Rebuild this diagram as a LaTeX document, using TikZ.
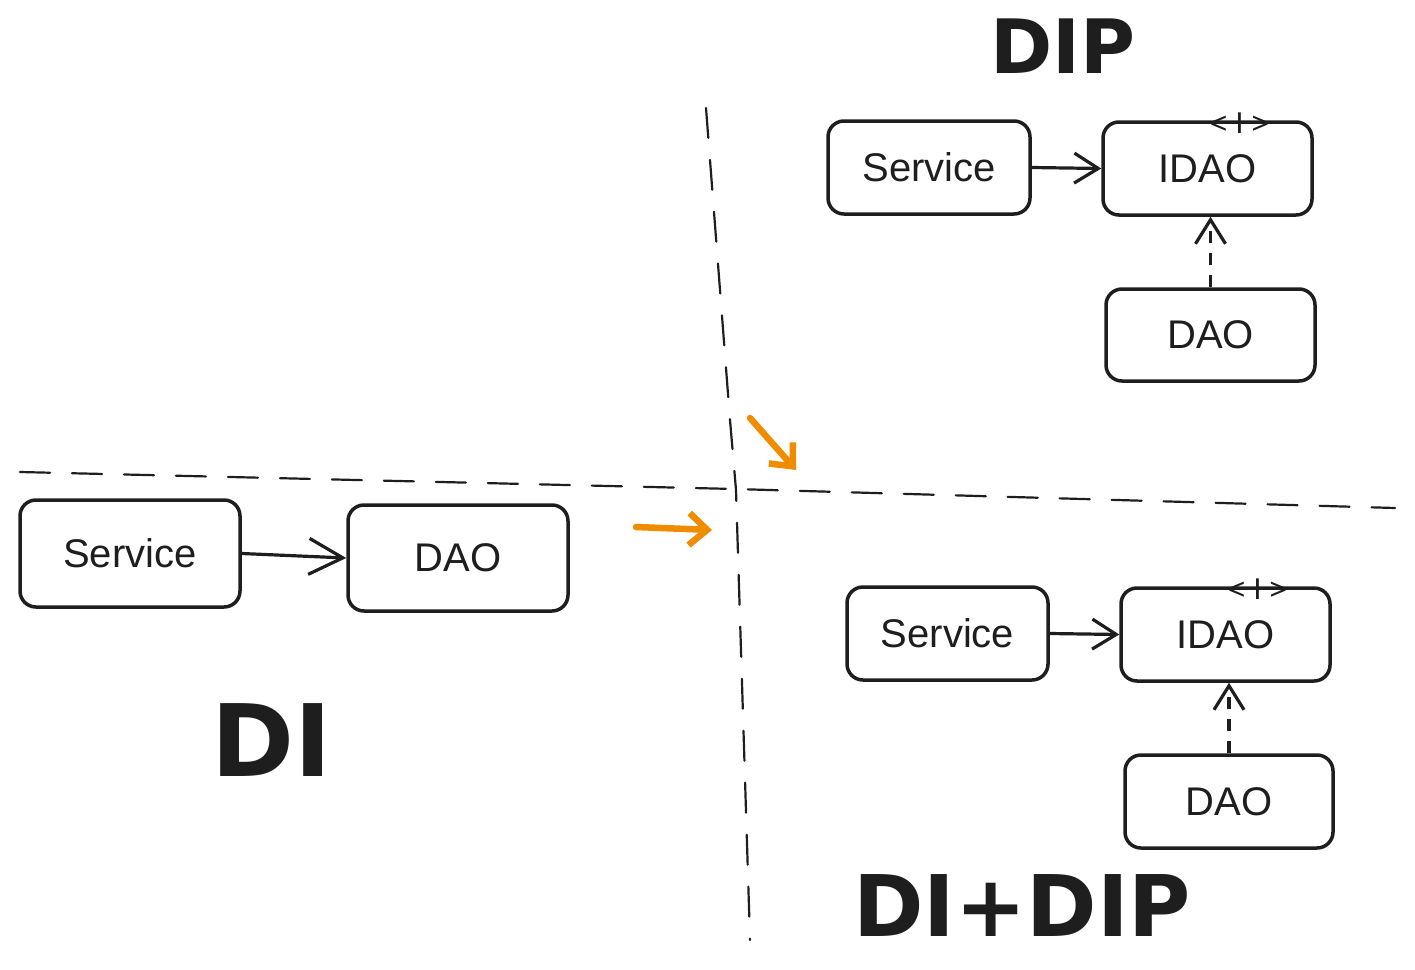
\documentclass[tikz,border=0pt]{standalone}
\usepackage{fontspec}
\setmainfont{Liberation Sans}
\newfontfamily\titlefont{DejaVu Sans}
\usetikzlibrary{arrows.meta}
\definecolor{inkc}{HTML}{1E1E1E}
\definecolor{orangec}{HTML}{F08C00}
\tikzset{
  box/.style={draw=inkc, line width=3.5pt, rounded corners=16pt, inner sep=0pt,
    font=\fontsize{40}{48}\selectfont, text=inkc},
  arr/.style={draw=inkc, line width=3.2pt, -{Straight Barb[length=24pt,width=30pt,line width=3.2pt]}},
  darr/.style={arr, dash pattern=on 12pt off 10pt},
  sep/.style={draw=inkc, line width=2.2pt, dash pattern=on 30pt off 22pt, line cap=round},
  oarr/.style={draw=orangec, line width=6.5pt, line cap=round,
    -{Straight Barb[length=18pt,width=32pt,line width=6.5pt]}},
  title/.style={text=inkc},
  stereo/.style={font=\fontsize{30}{34}\selectfont, text=inkc, inner sep=0pt}
}
\begin{document}
\begin{tikzpicture}[x=1pt,y=-1pt]
\useasboundingbox (0,0) rectangle (1415,969);
% separators
\coordinate (h1) at (20,472);
\coordinate (h2) at (735,489);
\coordinate (h3) at (1395,508);
\coordinate (v1) at (706,108);
\coordinate (v2) at (730,420);
\coordinate (v3) at (736,490);
\coordinate (v4) at (750,940);
\draw[sep] (h1) -- (h2) -- (h3);
\draw[sep] (v1) -- (v2) -- (v3) -- (v4);
% orange arrows
\coordinate (o1) at (636,527);
\coordinate (o2) at (712,530);
\coordinate (o3) at (750,418);
\coordinate (o4) at (796,470);
\draw[oarr] (o1) -- (o2);
\draw[oarr] (o3) -- (o4);
% DI quadrant
\node[box, minimum width=220pt, minimum height=107pt] (s1) at (130,553.5) {Service};
\node[box, minimum width=220pt, minimum height=106pt] (d1) at (458,558) {DAO};
\draw[arr, -{Straight Barb[length=34pt,width=36pt,line width=3.2pt]}] (s1.east) -- (d1.west);
\node[title, font=\titlefont\bfseries\fontsize{100}{110}\selectfont] (t1) at (272,740) {DI};
% DIP quadrant
\node[box, minimum width=202pt, minimum height=93pt] (s2) at (929,167.5) {Service};
\node[box, minimum width=209pt, minimum height=93pt] (i2) at (1207.5,168.5) {IDAO};
\node[box, minimum width=209pt, minimum height=92pt] (d2) at (1210.5,335) {DAO};
\node[stereo] (l2) at ([xshift=32pt,yshift=-3pt]i2.north) {<\hspace{8pt}I\hspace{8pt}>};
\draw[arr] (s2.east) -- (i2.west);
\draw[darr] (d2.north) -- (d2.north |- i2.south);
\node[title, font=\titlefont\bfseries\fontsize{75}{85}\selectfont] (t2) at (1063,46) {DIP};
% DI + DIP quadrant
\node[box, minimum width=201pt, minimum height=93pt] (s3) at (947.5,633.5) {Service};
\node[box, minimum width=209pt, minimum height=93pt] (i3) at (1225.5,634.5) {IDAO};
\node[box, minimum width=208pt, minimum height=93pt] (d3) at (1229,801.5) {DAO};
\node[stereo] (l3) at ([xshift=32pt,yshift=-3pt]i3.north) {<\hspace{8pt}I\hspace{8pt}>};
\draw[arr] (s3.east) -- (i3.west);
\draw[darr] (d3.north) -- (d3.north |- i3.south);
\node[title, font=\titlefont\bfseries\fontsize{85}{95}\selectfont] (t3) at (1022,906) {DI+DIP};
\end{tikzpicture}
\end{document}
